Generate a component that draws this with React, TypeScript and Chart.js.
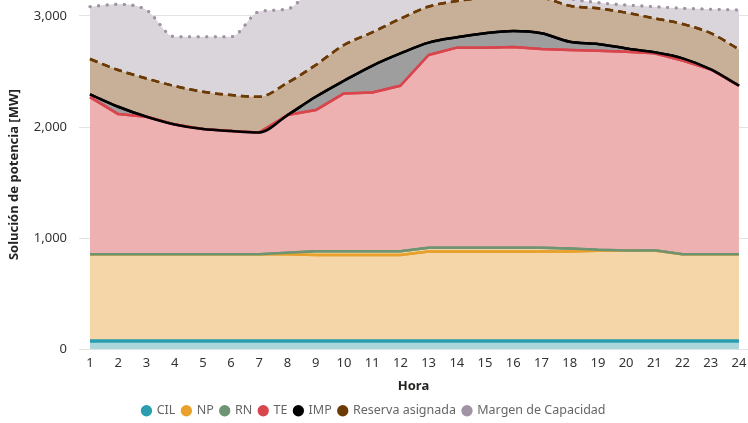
import React, { useEffect, useRef } from 'react';
import { Chart, registerables } from 'chart.js';
Chart.register(...registerables);

// Hour categories
const hours = [1, 2, 3, 4, 5, 6, 7, 8, 9, 10, 11, 12, 13, 14, 15, 16, 17, 18, 19, 20, 21, 22, 23, 24];
const yTicks = [0, 1000, 2000, 3000];

// Stacked series values (MW)
const cil = [75, 75, 75, 75, 75, 75, 75, 75, 75, 75, 75, 75, 75, 75, 75, 75, 75, 75, 75, 75, 75, 75, 75, 75];
const np = [780, 780, 780, 780, 780, 780, 780, 780, 773, 773, 773, 773, 805, 805, 805, 805, 805, 805, 813, 815, 815, 780, 780, 780];
const rn = [0, 0, 0, 0, 0, 0, 0, 13, 34, 34, 34, 34, 35, 35, 35, 35, 35, 28, 7, 0, 2, 0, 0, 0];
const te = [1415, 1262, 1238, 1169, 1127, 1109, 1097, 1240, 1271, 1421, 1430, 1490, 1734, 1800, 1800, 1806, 1788, 1786, 1793, 1789, 1772, 1743, 1664, 1517];
const imp = [24, 66, 0, 0, 0, 0, 0, 0, 120, 114, 240, 291, 111, 93, 129, 144, 141, 74, 60, 29, 9, 21, 0, 0];
const reserva = [319, 331, 345, 345, 336, 324, 321, 291, 286, 322, 300, 312, 325, 327, 321, 310, 321, 325, 321, 322, 306, 309, 326, 328];
const margen = [471, 591, 616, 445, 496, 526, 767, 664, 691, 521, 418, 305, 205, 155, 125, 105, 95, 67, 51, 69, 105, 141, 215, 354];

const seriesNames = ['CIL', 'NP', 'RN', 'TE', 'IMP', 'Reserva asignada', 'Margen de Capacidad'];
const seriesValues = [cil, np, rn, te, imp, reserva, margen];

const FONT = "'Segoe UI', 'Noto Sans', sans-serif";

export default function App() {
  const ref = useRef<HTMLCanvasElement>(null);

  useEffect(() => {
    if (!ref.current) return;
    const styles = [
      { line: '#2A9DAF', fill: '#AAD6DC', width: 3, dash: [] as number[], smooth: false, cap: 'butt' },
      { line: '#E8A12B', fill: '#F4D6A8', width: 2.5, dash: [], smooth: false, cap: 'butt' },
      { line: '#6E9473', fill: '#F4D6A8', width: 2.5, dash: [], smooth: false, cap: 'butt' },
      { line: '#D9454D', fill: '#EDB1B1', width: 2.5, dash: [], smooth: false, cap: 'butt' },
      { line: '#000000', fill: '#9E9E9E', width: 2.5, dash: [], smooth: true, cap: 'butt' },
      { line: '#6B3A05', fill: '#C8AF98', width: 2.5, dash: [8, 5], smooth: true, cap: 'butt' },
      { line: '#A094A4', fill: '#DAD4DB', width: 3, dash: [0.1, 8.5], smooth: true, cap: 'round' },
    ];

    const lineOnTop = {
      id: 'lineOnTop',
      afterDatasetsDraw(chart: any) {
        const { ctx, chartArea } = chart;
        ctx.save();
        ctx.beginPath();
        ctx.rect(chartArea.left, chartArea.top, chartArea.right - chartArea.left, chartArea.bottom - chartArea.top + 2);
        ctx.clip();
        for (let i = 0; i < chart.data.datasets.length; i++) {
          const meta = chart.getDatasetMeta(i);
          if (meta.dataset) meta.dataset.draw(ctx, chartArea);
        }
        ctx.restore();
      },
    };

    const chart = new Chart(ref.current, {
      type: 'line',
      data: {
        datasets: seriesValues.map((vals, i) => ({
          label: seriesNames[i],
          data: hours.map((h, j) => ({ x: h, y: vals[j] })),
          borderColor: styles[i].line,
          backgroundColor: styles[i].fill,
          borderWidth: styles[i].width,
          borderDash: styles[i].dash,
          borderCapStyle: styles[i].cap as CanvasLineCap,
          borderJoinStyle: 'round' as CanvasLineJoin,
          fill: i === 0 ? 'origin' : '-1',
          pointRadius: 0,
          pointHoverRadius: 0,
          cubicInterpolationMode: styles[i].smooth ? 'monotone' : 'default',
          tension: 0,
        })) as any,
      },
      plugins: [lineOnTop],
      options: {
        animation: false,
        responsive: false,
        devicePixelRatio: 1,
        layout: { padding: { top: 0, left: 0, right: 0, bottom: -4 } },
        plugins: {
          tooltip: { enabled: false },
          filler: { propagate: false },
          legend: {
            position: 'bottom',
            labels: {
              usePointStyle: true,
              pointStyle: 'circle',
              boxWidth: 8,
              boxHeight: 8,
              padding: 7,
              color: '#666666',
              font: { family: FONT, size: 12.5 },
              generateLabels: (c: any) =>
                c.data.datasets.map((d: any, i: number) => ({
                  text: d.label,
                  fillStyle: d.borderColor,
                  strokeStyle: d.borderColor,
                  lineWidth: 0,
                  pointStyle: 'circle',
                  hidden: false,
                  datasetIndex: i,
                  fontColor: '#666666',
                })),
            },
          },
        },
        scales: {
          x: {
            type: 'linear',
            min: 0.61,
            max: 24.32,
            afterBuildTicks: (s: any) => {
              s.ticks = hours.map((h) => ({ value: h }));
            },
            ticks: {
              autoSkip: false,
              maxRotation: 0,
              color: '#333333',
              font: { family: FONT, size: 13 },
              padding: -2,
              callback: (v: any) => String(v),
            },
            grid: { display: false },
            border: { display: false },
            title: {
              display: true,
              text: 'Hora',
              color: '#252423',
              font: { family: FONT, size: 13, weight: 'bold' },
              padding: { top: 10, bottom: 3 },
            },
          },
          y: {
            stacked: true,
            min: 0,
            max: 3144,
            afterBuildTicks: (s: any) => {
              s.ticks = yTicks.map((v) => ({ value: v }));
            },
            afterFit: (s: any) => {
              s.paddingTop = 0;
              s.width = 79;
            },
            ticks: {
              color: '#333333',
              font: { family: FONT, size: 13 },
              padding: 12,
              callback: (v: any) => Number(v).toLocaleString('en-US'),
            },
            grid: { color: '#E3E3E3', drawTicks: false, lineWidth: 1 },
            border: { display: false },
            title: {
              display: true,
              text: 'Solución de potencia [MW]',
              color: '#252423',
              font: { family: FONT, size: 13, weight: 'bold' },
              padding: { top: 6, bottom: 0 },
            },
          },
        },
      } as any,
    });
    return () => chart.destroy();
  }, []);

  return (
    <div style={{ position: 'absolute', left: 0, top: 0, width: 748, height: 423 }}>
      <canvas ref={ref} width={748} height={423} style={{ display: 'block' }} />
    </div>
  );
}
